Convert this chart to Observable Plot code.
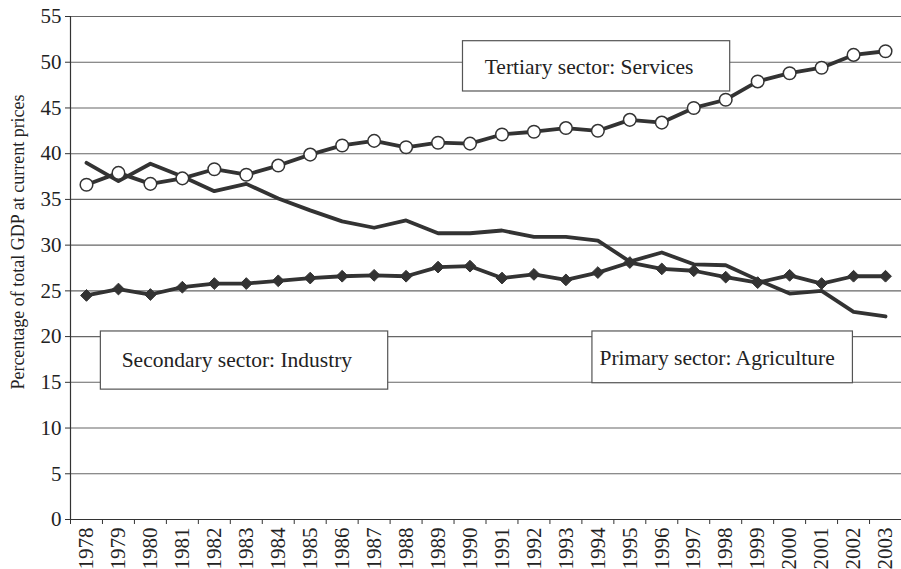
<!DOCTYPE html>
<html>
<head>
<meta charset="utf-8">
<script src="https://cdn.jsdelivr.net/npm/d3@7"></script>
<script src="https://cdn.jsdelivr.net/npm/@observablehq/plot@0.6"></script>
<style>
  html, body { margin: 0; padding: 0; background: #fff; }
</style>
</head>
<body>
<div id="chart"></div>
<script>
const years = [1978,1979,1980,1981,1982,1983,1984,1985,1986,1987,1988,1989,1990,1991,1992,1993,1994,1995,1996,1997,1998,1999,2000,2001,2002,2003];
const services = [36.6,37.9,36.7,37.3,38.3,37.7,38.7,39.9,40.9,41.4,40.7,41.2,41.1,42.1,42.4,42.8,42.5,43.7,43.4,45.0,45.9,47.9,48.8,49.4,50.8,51.2];
const plainLine = [39.0,37.0,38.9,37.5,35.9,36.7,35.1,33.8,32.6,31.9,32.7,31.3,31.3,31.6,30.9,30.9,30.5,28.2,29.2,27.9,27.8,26.2,24.7,25.0,22.7,22.2];
const diamondLine = [24.5,25.2,24.6,25.4,25.8,25.8,26.1,26.4,26.6,26.7,26.6,27.6,27.7,26.4,26.8,26.2,27.0,28.1,27.4,27.2,26.5,25.9,26.7,25.8,26.6,26.6];
const yTicks = [0,5,10,15,20,25,30,35,40,45,50,55];
const yLabel = "Percentage of total GDP at current prices";
const labelTexts = ["Tertiary sector: Services", "Secondary sector: Industry", "Primary sector: Agriculture"];
// annotation boxes in data units (year, percent)
const boxYear1 = [1989.78, 1978.45, 1993.83];
const boxYear2 = [1998.14, 1987.44, 2001.98];
const boxVal1 = [52.3, 20.56, 20.56];
const boxVal2 = [46.8, 14.2, 14.9];
const textYear = [1990.46, 1979.1, 1994.05];
const textVal = [49.5, 17.4, 17.7];

const svcData = years.map((year, i) => ({year, value: services[i]}));
const plainData = years.map((year, i) => ({year, value: plainLine[i]}));
const diaData = years.map((year, i) => ({year, value: diamondLine[i]}));
const boxes = labelTexts.map((text, i) => ({text, x1: boxYear1[i], x2: boxYear2[i], y1: boxVal1[i], y2: boxVal2[i], tx: textYear[i], ty: textVal[i]}));
const boundaries = years.map(y => y - 0.5).concat([years[years.length - 1] + 0.5]);

const ink = "#333";
const chart = Plot.plot({
  width: 901,
  height: 569,
  marginTop: 16,
  marginBottom: 50,
  marginLeft: 70,
  marginRight: 0,
  style: {fontFamily: "'Liberation Serif', 'Times New Roman', serif", fontSize: "21px", color: "#222", background: "#fff"},
  x: {type: "linear", domain: [years[0] - 0.5, years[years.length - 1] + 0.5]},
  y: {domain: [0, 55]},
  marks: [
    Plot.ruleY(yTicks.filter(d => d > 0), {stroke: "#666", strokeWidth: 1.1}),
    Plot.rect(boxes, {x1: "x1", x2: "x2", y1: "y1", y2: "y2", fill: "#fff", stroke: "#555", strokeWidth: 1.2}),
    Plot.text(boxes, {x: "tx", y: "ty", text: "text", textAnchor: "start", fontSize: 21.5, fill: "#222"}),
    Plot.line(plainData, {x: "year", y: "value", stroke: ink, strokeWidth: 3.8}),
    Plot.line(diaData, {x: "year", y: "value", stroke: ink, strokeWidth: 3.8}),
    Plot.dot(diaData, {x: "year", y: "value", symbol: "diamond2", r: 5.3, fill: ink, stroke: ink, strokeWidth: 1}),
    Plot.line(svcData, {x: "year", y: "value", stroke: ink, strokeWidth: 3.8}),
    Plot.dot(svcData, {x: "year", y: "value", r: 6.3, fill: "#fff", stroke: ink, strokeWidth: 1.5}),
    Plot.axisY({ticks: yTicks, tickSize: 5, tickPadding: 4, fontSize: 21, label: null, stroke: ink}),
    Plot.axisX({ticks: boundaries, tickSize: 5, tickFormat: () => "", label: null, stroke: ink}),
    Plot.axisX({ticks: years, tickSize: 0, tickPadding: 8, tickRotate: -90, fontSize: 21, tickFormat: d => String(d), label: null}),
    Plot.ruleX([years[0] - 0.5], {stroke: ink, strokeWidth: 1.2}),
    Plot.ruleY([0], {stroke: ink, strokeWidth: 1.2}),
    Plot.text([yLabel], {frameAnchor: "left", dx: -52, dy: -26, rotate: -90, textAnchor: "middle", fontSize: 18, fill: "#222"})
  ]
});
document.getElementById("chart").appendChild(chart);
</script>
</body>
</html>
